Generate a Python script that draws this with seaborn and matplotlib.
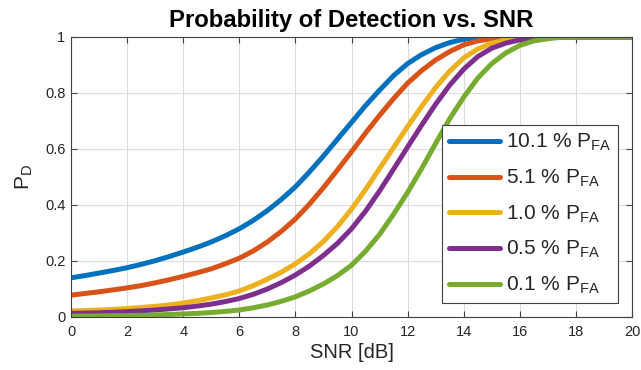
import numpy as np
import pandas as pd
import matplotlib
matplotlib.use("Agg")
import matplotlib.pyplot as plt
import seaborn as sns

# SNR grid in dB (half-dB steps)
snr_db = [0.0, 0.5, 1.0, 1.5, 2.0, 2.5, 3.0, 3.5, 4.0, 4.5,
          5.0, 5.5, 6.0, 6.5, 7.0, 7.5, 8.0, 8.5, 9.0, 9.5,
          10.0, 10.5, 11.0, 11.5, 12.0, 12.5, 13.0, 13.5, 14.0, 14.5,
          15.0, 15.5, 16.0, 16.5, 17.0, 17.5, 18.0, 18.5, 19.0, 19.5, 20.0]

# Probability of detection for each false-alarm rate
pd_pfa_10_1 = [0.140, 0.148, 0.157, 0.166, 0.176, 0.188, 0.201, 0.216, 0.232, 0.249,
               0.268, 0.290, 0.315, 0.345, 0.380, 0.420, 0.465, 0.518, 0.575, 0.635,
               0.695, 0.755, 0.810, 0.862, 0.905, 0.937, 0.962, 0.980, 0.992, 0.997,
               0.999, 1.000, 1.000, 1.000, 1.000, 1.000, 1.000, 1.000, 1.000, 1.000, 1.000]
pd_pfa_5_1 = [0.078, 0.084, 0.090, 0.097, 0.104, 0.112, 0.122, 0.133, 0.145, 0.158,
              0.172, 0.190, 0.210, 0.236, 0.268, 0.306, 0.350, 0.403, 0.462, 0.525,
              0.590, 0.657, 0.720, 0.780, 0.835, 0.880, 0.918, 0.948, 0.972, 0.986,
              0.994, 0.998, 1.000, 1.000, 1.000, 1.000, 1.000, 1.000, 1.000, 1.000, 1.000]
pd_pfa_1_0 = [0.022, 0.023, 0.025, 0.027, 0.030, 0.034, 0.038, 0.043, 0.050, 0.058,
              0.068, 0.079, 0.093, 0.112, 0.135, 0.160, 0.190, 0.226, 0.270, 0.323,
              0.385, 0.455, 0.530, 0.605, 0.680, 0.752, 0.820, 0.878, 0.925, 0.957,
              0.978, 0.990, 0.997, 0.999, 1.000, 1.000, 1.000, 1.000, 1.000, 1.000, 1.000]
pd_pfa_0_5 = [0.013, 0.014, 0.015, 0.017, 0.019, 0.022, 0.025, 0.029, 0.033, 0.039,
              0.046, 0.055, 0.066, 0.081, 0.100, 0.123, 0.150, 0.182, 0.220, 0.263,
              0.315, 0.378, 0.450, 0.528, 0.607, 0.685, 0.760, 0.828, 0.885, 0.930,
              0.960, 0.978, 0.990, 0.996, 0.999, 1.000, 1.000, 1.000, 1.000, 1.000, 1.000]
pd_pfa_0_1 = [0.003, 0.0035, 0.004, 0.0045, 0.005, 0.006, 0.007, 0.009, 0.011, 0.013,
              0.016, 0.020, 0.025, 0.033, 0.043, 0.056, 0.072, 0.093, 0.118, 0.148,
              0.185, 0.235, 0.295, 0.367, 0.445, 0.530, 0.620, 0.708, 0.785, 0.853,
              0.905, 0.943, 0.970, 0.986, 0.994, 0.999, 1.000, 1.000, 1.000, 1.000, 1.000]

series_labels = [r"10.1 % P$_{\mathrm{FA}}$", r"5.1 % P$_{\mathrm{FA}}$",
                 r"1.0 % P$_{\mathrm{FA}}$", r"0.5 % P$_{\mathrm{FA}}$",
                 r"0.1 % P$_{\mathrm{FA}}$"]
series_values = [pd_pfa_10_1, pd_pfa_5_1, pd_pfa_1_0, pd_pfa_0_5, pd_pfa_0_1]
colors = ["#0072BD", "#D95319", "#EDB120", "#7E2F8E", "#77AC30"]

x_ticks = [0, 2, 4, 6, 8, 10, 12, 14, 16, 18, 20]
y_ticks = [0, 0.2, 0.4, 0.6, 0.8, 1]
y_tick_labels = ["0", "0.2", "0.4", "0.6", "0.8", "1"]

df = pd.concat(
    [pd.DataFrame({"snr": snr_db, "pd": vals, "series": lab})
     for lab, vals in zip(series_labels, series_values)],
    ignore_index=True,
)

sns.set_theme(style="white")
plt.rcParams["font.family"] = ["Liberation Sans", "DejaVu Sans"]
plt.rcParams["mathtext.fontset"] = "custom"
plt.rcParams["mathtext.rm"] = "Liberation Sans"
plt.rcParams["mathtext.it"] = "Liberation Sans:italic"
plt.rcParams["mathtext.bf"] = "Liberation Sans:bold"

fig = plt.figure(figsize=(6.41, 3.70), dpi=100)
ax = fig.add_axes([71 / 641, 1 - 317 / 370, (632 - 71) / 641, (317 - 37) / 370])

sns.lineplot(data=df, x="snr", y="pd", hue="series", palette=colors,
             hue_order=series_labels, linewidth=3.6, ax=ax, legend=True)

ax.set_xlim(0, 20)
ax.set_ylim(0, 1)
ax.set_xticks(x_ticks)
ax.set_xticklabels([str(t) for t in x_ticks])
ax.set_yticks(y_ticks)
ax.set_yticklabels(y_tick_labels)

axis_color = "#262626"
ax.grid(True, color="#dcdcdc", linewidth=0.8)
ax.set_axisbelow(True)
for side in ax.spines.values():
    side.set_color("#404040")
    side.set_linewidth(0.8)
ax.tick_params(direction="in", length=4, width=0.8, colors="#404040",
               labelcolor=axis_color, labelsize=10.5,
               top=True, right=True, bottom=True, left=True)
ax.tick_params(axis="x", pad=6)
ax.tick_params(axis="y", pad=4)

ax.set_xlabel("SNR [dB]", fontsize=14.5, color=axis_color, labelpad=3)
ax.set_ylabel(r"P$_{\mathrm{D}}$", fontsize=15, color=axis_color, labelpad=7)
ax.set_title("Probability of Detection vs. SNR", fontsize=17.2,
             fontweight="bold", color="black", pad=7)

handles, labels = ax.get_legend_handles_labels()
leg = ax.legend(handles, labels, loc="lower right", bbox_to_anchor=(1.0, 0.0),
                fontsize=15, frameon=True, fancybox=False, framealpha=1,
                edgecolor="#404040", handlelength=2.45, handletextpad=0.25,
                labelspacing=0.69, borderpad=0.35, borderaxespad=0.65)
leg.get_frame().set_linewidth(0.8)
for line in leg.get_lines():
    line.set_linewidth(3.6)

fig.savefig("out.png", dpi=100)
